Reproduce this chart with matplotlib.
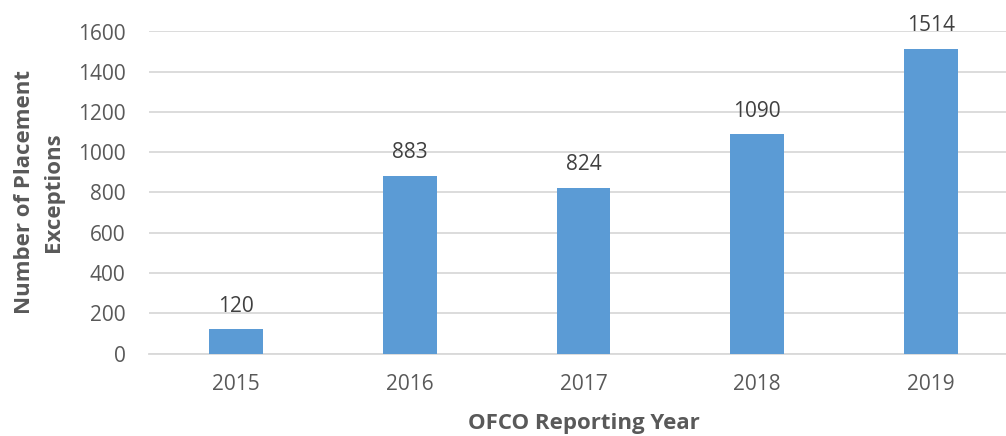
import matplotlib
matplotlib.use("Agg")
import matplotlib.pyplot as plt

years = ["2015", "2016", "2017", "2018", "2019"]
values = [120, 883, 824, 1090, 1514]
yticks = [0, 200, 400, 600, 800, 1000, 1200, 1400, 1600]

plt.rcParams['font.family'] = ['Open Sans', 'DejaVu Sans']

W, H = 1006, 436
fig = plt.figure(figsize=(W / 100, H / 100), dpi=100)
left, right = 149, 1018
bottom, top = 353.5, 31.5
ax = fig.add_axes([left / W, (H - bottom) / H, (right - left) / W, (bottom - top) / H])

x = range(len(years))
bars = ax.bar(x, values, width=0.31, color="#5B9BD5", zorder=3)
ax.set_xlim(-0.5, len(years) - 0.5)
ax.set_ylim(0, 1600)
ax.set_yticks(yticks)
ax.set_yticklabels([str(t) for t in yticks])
ax.set_xticks(list(x))
ax.set_xticklabels(years)
ax.grid(axis="y", color="#D9D9D9", linewidth=1.3, zorder=0)
for s in ["top", "right", "left"]:
    ax.spines[s].set_visible(False)
ax.spines["bottom"].set_color("#D9D9D9")
ax.spines["bottom"].set_linewidth(1.3)
ax.tick_params(axis="both", length=0, labelsize=15, colors="#595959")
ax.tick_params(axis="y", pad=17)
ax.tick_params(axis="x", pad=15)

for xi, v in zip(x, values):
    ax.annotate(str(v), (xi, v), xytext=(0, 9), textcoords="offset points",
                ha="center", va="bottom", fontsize=15, color="#404040")

fig.text(584 / W, 1 - 423 / H, "OFCO Reporting Year", ha="center", va="center",
         fontsize=16, fontweight="bold", color="#595959")
fig.text(39.5 / W, 1 - 192 / H, "Number of Placement\nExceptions", ha="center", va="center",
         rotation=90, fontsize=16, fontweight="bold", color="#595959", linespacing=1.5)

fig.savefig("out.png", dpi=100)
